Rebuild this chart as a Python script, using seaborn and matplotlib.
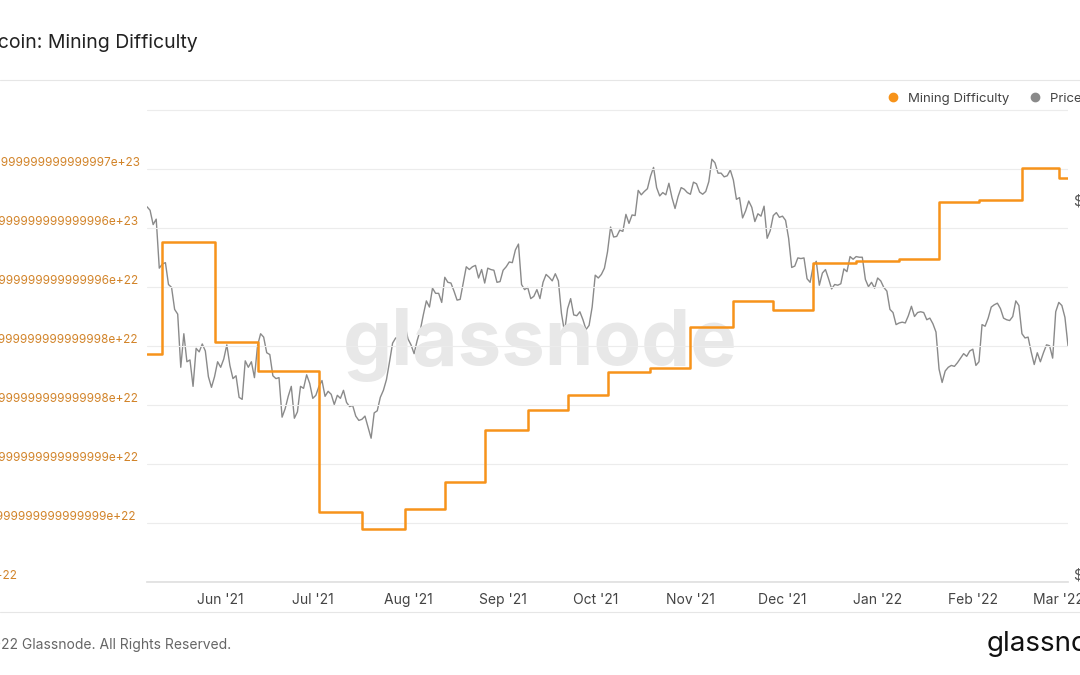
import numpy as np
import pandas as pd
import matplotlib
matplotlib.use("Agg")
import matplotlib.pyplot as plt
import matplotlib.dates as mdates
from matplotlib.lines import Line2D
import seaborn as sns

sns.set_theme(style="white")
plt.rcParams["font.family"] = ["Inter", "DejaVu Sans"]

ORANGE = "#f7931a"
GREY = "#8a8a8a"

# ── Data ──────────────────────────────────────────────────────────────────────
price_start = "2021-05-08"
price_k = [
    58.8, 58.2, 55.8, 56.7, 49.1, 49.7, 49.9, 46.8, 46.4, 43.5, 42.9, 36.7, 40.5, 37.3, 37.5, 34.7,
    38.8, 38.4, 39.3, 38.5, 35.7, 34.6, 35.7, 37.3,
    36.7, 37.6, 39.2, 36.9, 35.5, 35.8, 33.6, 33.4, 37.4, 36.7, 37.3, 35.6, 39.1, 40.5, 40.1, 38.3,
    38.1, 35.8, 35.5, 35.6, 31.7, 32.5, 33.7, 34.7, 31.6, 32.2, 34.7, 34.5, 35.9, 35.0,
    33.5, 33.8, 34.7, 35.3, 33.7, 34.2, 33.9, 32.9, 33.8, 33.5, 34.3, 33.1, 32.7, 32.8, 31.8, 31.4,
    31.5, 31.8, 30.8, 29.8, 32.1, 32.3, 33.6, 34.3, 35.4, 37.3, 39.4, 40.0, 40.0, 42.2, 41.6,
    39.9, 39.2, 38.2, 39.7, 40.9, 42.8, 44.6, 43.8, 46.3, 45.6, 45.6, 44.4, 47.8, 47.1, 47.0, 45.9,
    44.7, 44.8, 47.0, 49.3, 48.9, 49.3, 49.5, 47.7, 48.9, 47.0, 49.1, 48.9, 48.8, 47.1, 47.2,
    48.8, 49.3, 50.0, 49.9, 51.8, 52.7, 46.8, 46.1, 46.4, 44.9, 45.2, 46.1, 44.9, 47.1, 48.2, 47.8,
    47.3, 48.3, 47.3, 43.0, 40.7, 43.6, 44.9, 42.8, 42.7, 43.2, 42.2, 41.0, 41.5, 43.8,
    48.1, 47.7, 48.2, 49.1, 51.5, 55.4, 53.8, 53.9, 54.9, 54.7, 57.5, 56.0, 57.4, 57.3, 61.7, 60.9,
    61.5, 62.0, 64.3, 66.0, 62.2, 60.7, 61.3, 60.9, 63.0, 60.4, 58.5, 60.6, 62.2, 61.9, 61.3,
    61.0, 63.2, 62.9, 61.4, 61.0, 61.5, 63.3, 67.6, 66.9, 64.9, 64.9, 64.2, 64.4, 65.5, 63.6, 60.1,
    60.4, 56.9, 58.1, 59.8, 58.7, 56.3, 57.6, 57.2, 58.9, 53.6, 54.8, 57.3, 57.8, 57.0,
    57.2, 56.5, 53.6, 49.2, 49.4, 50.6, 50.5, 50.6, 47.6, 47.1, 49.4, 50.1, 46.7, 48.4, 48.9, 47.6,
    46.2, 46.8, 46.7, 46.9, 49.0, 48.6, 50.8, 50.4, 50.8, 50.7, 50.7, 47.5, 46.5, 47.1, 46.3,
    47.7, 47.3, 46.4, 45.9, 43.5, 43.1, 41.6, 41.8, 41.9, 41.8, 42.7, 43.9, 42.6, 43.1, 43.2, 43.1,
    42.2, 42.4, 41.7, 40.7, 36.5, 35.1, 36.3, 36.7, 36.9, 36.8, 37.2, 37.7, 38.2, 37.9, 38.5,
    38.7, 36.9, 37.3, 41.6, 41.4, 42.4, 43.8, 44.1, 44.3, 43.6, 42.4, 42.2, 42.1, 42.6, 44.6, 44.0,
    40.5, 40.0, 40.1, 38.4, 37.0, 38.3, 37.3, 38.3, 39.2, 39.1, 37.7, 43.2,
    44.4, 44.0, 42.5, 39.1,
]

diff_dates = ["2021-05-08", "2021-05-13", "2021-05-30", "2021-06-13", "2021-07-03", "2021-07-17",
              "2021-07-31", "2021-08-13", "2021-08-26", "2021-09-09", "2021-09-22", "2021-10-05",
              "2021-10-19", "2021-11-01", "2021-11-15", "2021-11-28", "2021-12-11", "2021-12-25",
              "2022-01-08", "2022-01-21", "2022-02-03", "2022-02-17", "2022-03-01", "2022-03-04"]
diff_t = [20.61, 25.04, 21.09, 19.94, 14.37, 13.69, 14.49, 15.55, 17.61, 18.40, 18.99, 19.90,
          20.06, 21.68, 22.71, 22.35, 24.21, 24.29, 24.37, 26.62, 26.70, 27.96, 27.57, 27.57]

left_ticks = [11.6 + 2.332 * k for k in range(9)]
left_labels = ["1e+22", "1.1999999999999999e+22", "1.3999999999999999e+22", "1.5999999999999998e+22",
               "1.7999999999999998e+22", "1.9999999999999996e+22", "2.1999999999999996e+23",
               "2.3999999999999997e+23", ""]
right_ticks = [20, 60]
right_labels = ["$20k", "$60k"]

price = pd.DataFrame({"date": pd.date_range(price_start, periods=len(price_k), freq="D"),
                      "price": price_k})
diff = pd.DataFrame({"date": pd.to_datetime(diff_dates), "difficulty": diff_t})

# ── Figure ────────────────────────────────────────────────────────────────────
fig = plt.figure(figsize=(10.8, 6.75), dpi=100)
ax = fig.add_axes([147 / 1080, 1 - 582 / 675, (1068 - 147) / 1080, (582 - 108) / 675])
ax2 = ax.twinx()

sns.lineplot(data=price, x="date", y="price", ax=ax2, color=GREY, linewidth=1.0)
ax2.set_yscale("log")
ax2.set_ylim(20 * np.exp(-(582 - 574) / 341), 60 * np.exp((200 - 108) / 341))
ax2.set_yticks(right_ticks)
ax2.set_yticklabels(right_labels)
ax2.yaxis.set_minor_locator(matplotlib.ticker.NullLocator())
ax2.tick_params(axis="y", length=0, pad=4, labelsize=10, labelcolor="#555555")
ax2.set_ylabel("")

ax.step(diff["date"], diff["difficulty"], where="post", color=ORANGE, linewidth=1.8)
ax.set_zorder(ax2.get_zorder() + 1)
ax.patch.set_visible(False)
ax.set_ylim(11.6, 11.6 + 474 / 25.3)
ax.set_yticks(left_ticks)
ax.set_yticklabels(left_labels)
ax.grid(axis="y", color="#ececec", linewidth=0.8)
ax.tick_params(axis="y", length=0, pad=118, labelsize=8.5, labelcolor="#d2842a")
for t in ax.get_yticklabels():
    t.set_horizontalalignment("left")
    t.set_verticalalignment("bottom")

ax.set_xlim(pd.Timestamp("2021-05-08"), pd.Timestamp("2022-03-04"))
ax.xaxis.set_major_locator(mdates.MonthLocator())
ax.xaxis.set_major_formatter(mdates.DateFormatter("%b '%y"))
ax.tick_params(axis="x", length=0, pad=8, labelsize=10, labelcolor="#444444")
ax.set_xlabel("")
ax.set_ylabel("")
for a in (ax, ax2):
    for s in a.spines.values():
        s.set_visible(False)
ax.spines["bottom"].set_visible(True)
ax.spines["bottom"].set_color("#e0e0e0")

# watermark
fig.text(540 / 1080, 1 - 345 / 675, "glassnode", fontsize=56, color="#e8e8e8",
         ha="center", va="center", fontweight="bold", zorder=0)

# header / footer
fig.text(-26 / 1080, 1 - 43 / 675, "Bitcoin: Mining Difficulty", fontsize=14, color="#222222",
         va="center", ha="left")
fig.add_artist(Line2D([0, 1], [1 - 80 / 675] * 2, color="#e6e6e6", linewidth=0.8))
fig.add_artist(Line2D([0, 1], [1 - 612 / 675] * 2, color="#e6e6e6", linewidth=0.8))
fig.text(-33 / 1080, 1 - 645 / 675, "© 2022 Glassnode. All Rights Reserved.", fontsize=10,
         color="#666666", va="center", ha="left")
fig.text(987 / 1080, 1 - 644 / 675, "glassnode", fontsize=20, color="#111111",
         va="center", ha="left")

handles = [Line2D([], [], marker="o", linestyle="", color=ORANGE, markersize=6),
           Line2D([], [], marker="o", linestyle="", color=GREY, markersize=6)]
fig.legend(handles, ["Mining Difficulty", "Price [USD]"], loc="center left",
           bbox_to_anchor=(868 / 1080, 1 - 99 / 675), ncol=2, frameon=False, fontsize=9.5,
           handletextpad=0.1, columnspacing=1.0, labelcolor="#444444")

fig.savefig("out.png", dpi=100)
